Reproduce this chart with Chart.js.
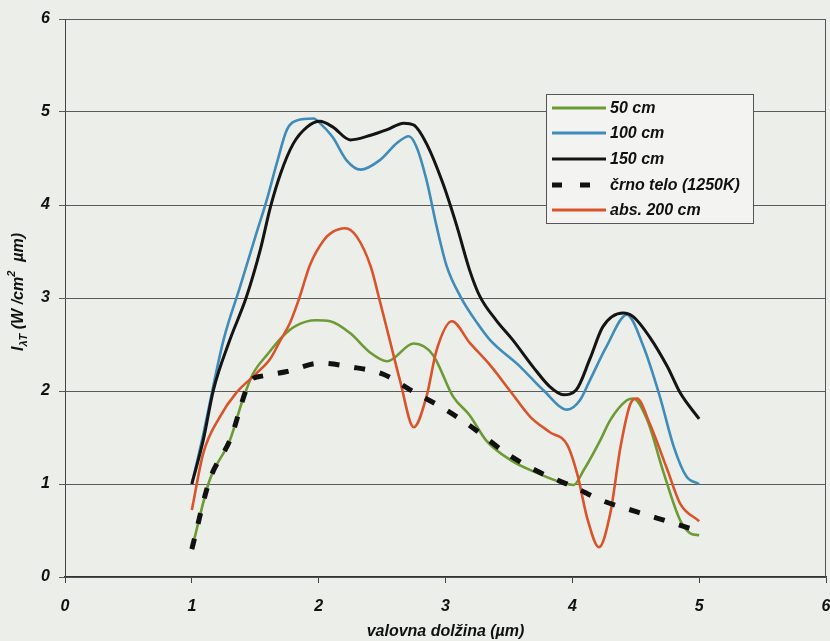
<!DOCTYPE html>
<html>
<head>
<meta charset="utf-8">
<script src="https://cdn.jsdelivr.net/npm/chart.js@4"></script>
<style>
  html, body { margin: 0; padding: 0; background: #eceee9; }
  #wrap { width: 830px; height: 641px; }
</style>
</head>
<body>
<div id="wrap"><canvas id="c" width="830" height="641"></canvas></div>
<script>
// ---- data (wavelength in µm, intensity in W/cm² µm) ----
const seriesLabels = ['50 cm', '100 cm', '150 cm', 'črno telo (1250K)', 'abs. 200 cm'];
const xTicks = [0, 1, 2, 3, 4, 5, 6];
const yTicks = [0, 1, 2, 3, 4, 5, 6];

const x50  = [1.0, 1.14, 1.30, 1.40, 1.48, 1.60, 1.71, 1.82, 1.98, 2.09, 2.25, 2.40, 2.54, 2.75, 2.90, 3.06, 3.19, 3.32, 3.51, 3.72, 3.93, 4.01, 4.09, 4.22, 4.30, 4.43, 4.48, 4.59, 4.72, 4.85, 4.93, 5.0];
const y50  = [0.30, 1.04, 1.47, 1.90, 2.18, 2.40, 2.58, 2.70, 2.76, 2.75, 2.62, 2.42, 2.32, 2.51, 2.39, 1.94, 1.74, 1.47, 1.26, 1.12, 1.01, 0.99, 1.15, 1.47, 1.69, 1.90, 1.92, 1.69, 1.12, 0.61, 0.47, 0.45];

const x100 = [1.0, 1.08, 1.25, 1.38, 1.51, 1.59, 1.67, 1.75, 1.83, 1.96, 2.01, 2.11, 2.22, 2.33, 2.48, 2.62, 2.71, 2.77, 2.85, 2.93, 3.01, 3.12, 3.25, 3.35, 3.59, 3.77, 3.96, 4.06, 4.14, 4.27, 4.43, 4.56, 4.69, 4.80, 4.90, 5.0];
const y100 = [1.0, 1.47, 2.55, 3.12, 3.70, 4.05, 4.45, 4.81, 4.91, 4.93, 4.88, 4.73, 4.48, 4.38, 4.48, 4.67, 4.74, 4.63, 4.27, 3.77, 3.34, 3.01, 2.73, 2.55, 2.26, 2.01, 1.80, 1.90, 2.12, 2.48, 2.82, 2.48, 1.94, 1.40, 1.08, 1.0];

const x150 = [1.0, 1.09, 1.17, 1.30, 1.43, 1.54, 1.62, 1.70, 1.80, 1.91, 2.01, 2.11, 2.25, 2.41, 2.54, 2.67, 2.75, 2.85, 2.98, 3.09, 3.19, 3.27, 3.40, 3.53, 3.69, 3.82, 3.93, 4.03, 4.14, 4.24, 4.40, 4.48, 4.61, 4.75, 4.85, 5.0];
const y150 = [1.0, 1.47, 2.01, 2.55, 3.01, 3.52, 3.98, 4.34, 4.66, 4.84, 4.90, 4.84, 4.70, 4.75, 4.81, 4.88, 4.86, 4.66, 4.23, 3.77, 3.30, 3.02, 2.76, 2.55, 2.26, 2.05, 1.96, 2.01, 2.35, 2.69, 2.84, 2.80, 2.58, 2.26, 1.98, 1.70];

const xBB  = [1.0, 1.14, 1.30, 1.47, 1.55, 1.75, 2.01, 2.25, 2.51, 2.75, 3.00, 3.22, 3.48, 3.75, 4.01, 4.22, 4.51, 4.77, 4.98];
const yBB  = [0.30, 1.04, 1.47, 2.12, 2.16, 2.21, 2.30, 2.26, 2.18, 1.99, 1.80, 1.60, 1.33, 1.12, 0.97, 0.83, 0.70, 0.59, 0.50];

const x200 = [1.0, 1.09, 1.22, 1.35, 1.51, 1.62, 1.70, 1.77, 1.85, 1.93, 2.04, 2.11, 2.21, 2.30, 2.41, 2.48, 2.56, 2.64, 2.75, 2.85, 2.93, 3.05, 3.19, 3.35, 3.51, 3.67, 3.82, 3.96, 4.04, 4.12, 4.21, 4.30, 4.38, 4.46, 4.51, 4.61, 4.75, 4.85, 5.0];
const y200 = [0.72, 1.33, 1.72, 1.98, 2.19, 2.35, 2.55, 2.72, 3.01, 3.35, 3.62, 3.71, 3.75, 3.66, 3.34, 2.98, 2.55, 2.12, 1.61, 1.94, 2.44, 2.75, 2.52, 2.28, 2.00, 1.72, 1.56, 1.42, 1.10, 0.62, 0.32, 0.69, 1.40, 1.87, 1.92, 1.65, 1.15, 0.79, 0.60];

const colors = ['#6c9b35', '#3f8bb9', '#141414', '#111111', '#d9532b'];

function pts(xs, ys) { return xs.map((x, i) => ({ x: x, y: ys[i] })); }

const datasets = [
  { label: seriesLabels[0], data: pts(x50, y50),   borderColor: colors[0], borderWidth: 2.6, order: 3 },
  { label: seriesLabels[1], data: pts(x100, y100), borderColor: colors[1], borderWidth: 2.6, order: 4 },
  { label: seriesLabels[2], data: pts(x150, y150), borderColor: colors[2], borderWidth: 3, order: 1 },
  { label: seriesLabels[3], data: pts(xBB, yBB),   borderColor: colors[3], borderWidth: 5, borderDash: [11, 15], order: 0 },
  { label: seriesLabels[4], data: pts(x200, y200), borderColor: colors[4], borderWidth: 2.6, order: 2 }
].map(d => Object.assign(d, { pointRadius: 0, fill: false, cubicInterpolationMode: 'monotone', borderCapStyle: 'butt' }));

const FONT = '"Liberation Sans", Arial, sans-serif';

const bgPlugin = {
  id: 'bg',
  beforeDraw(chart) {
    const ctx = chart.ctx;
    ctx.save();
    ctx.fillStyle = '#eceee9';
    ctx.fillRect(0, 0, chart.width, chart.height);
    ctx.restore();
  }
};

const decorPlugin = {
  id: 'decor',
  afterDatasetsDraw(chart) {
    const ctx = chart.ctx;
    const a = chart.chartArea;
    ctx.save();
    // right border
    ctx.strokeStyle = '#555';
    ctx.lineWidth = 1;
    ctx.beginPath();
    ctx.moveTo(Math.round(a.right) - 0.5, a.top);
    ctx.lineTo(Math.round(a.right) - 0.5, a.bottom);
    ctx.stroke();

    // legend box
    const lx = 546, ly = 94, lw = 207, lh = 129;
    ctx.fillStyle = '#f3f4f1';
    ctx.fillRect(lx, ly, lw, lh);
    ctx.strokeStyle = '#555';
    ctx.strokeRect(lx + 0.5, ly + 0.5, lw, lh);
    const rowY = [108, 133, 159, 185, 210];
    ctx.font = 'italic bold 16px ' + FONT;
    ctx.textBaseline = 'middle';
    ctx.textAlign = 'left';
    chart.data.datasets.forEach((ds, i) => {
      const y = rowY[i];
      ctx.save();
      ctx.strokeStyle = ds.borderColor;
      ctx.lineWidth = ds.borderDash ? 5 : 3;
      ctx.setLineDash(ds.borderDash ? [10, 18] : []);
      ctx.beginPath();
      ctx.moveTo(552, y);
      ctx.lineTo(606, y);
      ctx.stroke();
      ctx.restore();
      ctx.fillStyle = '#111';
      ctx.fillText(ds.label, 610, y + 1);
    });

    // x axis title
    ctx.fillStyle = '#111';
    ctx.font = 'italic bold 16px ' + FONT;
    ctx.textAlign = 'center';
    ctx.fillText('valovna dolžina (µm)', (a.left + a.right) / 2, 632);

    // y axis title with sub/superscript
    ctx.translate(19, 292);
    ctx.rotate(-Math.PI / 2);
    const parts = [
      { t: 'I', f: 'italic bold 16px ', dy: 0 },
      { t: 'λT', f: 'italic bold 11px ', dy: 5 },
      { t: ' (W /cm', f: 'italic bold 16px ', dy: 0 },
      { t: '2', f: 'italic bold 11px ', dy: -7 },
      { t: '  µm)', f: 'italic bold 16px ', dy: 0 }
    ];
    let total = 0;
    parts.forEach(p => { ctx.font = p.f + FONT; p.w = ctx.measureText(p.t).width; total += p.w; });
    let cx = -total / 2;
    ctx.textAlign = 'left';
    parts.forEach(p => { ctx.font = p.f + FONT; ctx.fillText(p.t, cx, p.dy); cx += p.w; });
    ctx.restore();
  }
};

new Chart(document.getElementById('c'), {
  type: 'line',
  data: { datasets: datasets },
  options: {
    responsive: false,
    animation: false,
    layout: { padding: { left: 0, right: 4, top: 19, bottom: 0 } },
    plugins: { legend: { display: false }, tooltip: { enabled: false } },
    scales: {
      x: {
        type: 'linear', min: 0, max: 6,
        afterBuildTicks: s => { s.ticks = xTicks.map(v => ({ value: v })); },
        afterFit: s => { s.height = 64; s.paddingLeft = 0; s.paddingRight = 0; },
        grid: { drawOnChartArea: false, drawTicks: true, tickLength: 6, color: '#444' },
        border: { display: true, color: '#333', width: 1.2 },
        ticks: { padding: 14, color: '#111', font: { family: FONT, size: 16, style: 'italic', weight: 'bold' } }
      },
      y: {
        type: 'linear', min: 0, max: 6,
        afterBuildTicks: s => { s.ticks = yTicks.map(v => ({ value: v })); },
        afterFit: s => { s.width = 65; s.paddingTop = 0; s.paddingBottom = 0; },
        grid: { drawOnChartArea: true, drawTicks: true, tickLength: 6, color: '#5a5a5a', lineWidth: 1 },
        border: { display: true, color: '#444', width: 1 },
        ticks: { padding: 9, color: '#111', font: { family: FONT, size: 16, style: 'italic', weight: 'bold' } }
      }
    }
  },
  plugins: [bgPlugin, decorPlugin]
});
</script>
</body>
</html>
